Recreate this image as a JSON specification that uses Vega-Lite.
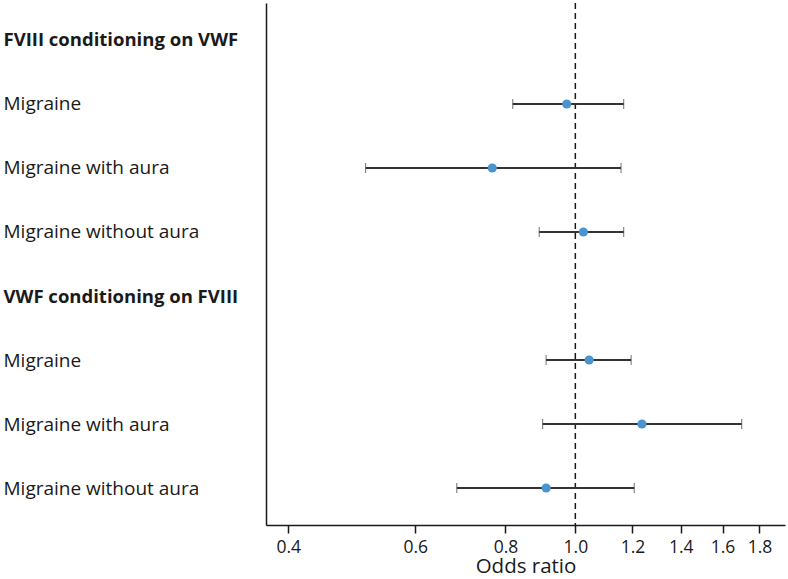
{
  "$schema": "https://vega.github.io/schema/vega-lite/v6.json",
  "width": 519,
  "height": 522,
  "autosize": "none",
  "padding": {"left": 266, "top": 3, "right": 3, "bottom": 54},
  "background": "white",
  "config": {
    "view": {"stroke": null},
    "font": "Open Sans"
  },
  "data": {
    "values": [
      {"key": "FVIII conditioning on VWF", "est": null, "lo": null, "hi": null},
      {"key": "Migraine|1", "est": 0.973, "lo": 0.819, "hi": 1.167},
      {"key": "Migraine with aura|1", "est": 0.767, "lo": 0.512, "hi": 1.157},
      {"key": "Migraine without aura|1", "est": 1.026, "lo": 0.891, "hi": 1.167},
      {"key": "VWF conditioning on FVIII", "est": null, "lo": null, "hi": null},
      {"key": "Migraine|2", "est": 1.045, "lo": 0.911, "hi": 1.195},
      {"key": "Migraine with aura|2", "est": 1.237, "lo": 0.901, "hi": 1.701},
      {"key": "Migraine without aura|2", "est": 0.911, "lo": 0.685, "hi": 1.207}
    ]
  },
  "encoding": {
    "y": {
      "field": "key",
      "type": "ordinal",
      "sort": null,
      "scale": {
        "type": "point",
        "padding": 0.578,
        "domain": [
          "FVIII conditioning on VWF",
          "Migraine|1",
          "Migraine with aura|1",
          "Migraine without aura|1",
          "VWF conditioning on FVIII",
          "Migraine|2",
          "Migraine with aura|2",
          "Migraine without aura|2"
        ]
      },
      "axis": {
        "title": null,
        "ticks": false,
        "tickSize": 0,
        "labelAlign": "left",
        "labelBaseline": "middle",
        "labelPadding": 263,
        "labelFont": "Open Sans",
        "labelFontSize": {"condition": {"test": "indexof(datum.value, 'conditioning') >= 0", "value": 18.5}, "value": 19},
        "labelColor": "#1a1a1a",
        "labelExpr": "split(datum.value, '|')[0]",
        "labelFontWeight": {"condition": {"test": "indexof(datum.value, 'conditioning') >= 0", "value": "bold"}, "value": "normal"},
        "domainColor": "#1a1a1a",
        "domainWidth": 1.5,
        "grid": false,
        "labelLimit": 300
      }
    }
  },
  "layer": [
    {
      "mark": {"type": "rule", "strokeDash": [6, 4], "color": "#1a1a1a", "strokeWidth": 1.5},
      "data": {"values": [{"ref": 1.0}]},
      "encoding": {
        "x": {
          "field": "ref",
          "type": "quantitative",
          "title": "Odds ratio",
          "scale": {"type": "log", "domain": [0.3725, 1.953], "nice": false, "zero": false},
          "axis": {
            "title": "Odds ratio",
            "titleFont": "Open Sans",
            "titleFontSize": 20.5,
            "titleFontWeight": "normal",
            "titleColor": "#1a1a1a",
            "titlePadding": 1,
            "values": [0.4, 0.6, 0.8, 1.0, 1.2, 1.4, 1.6, 1.8],
            "format": ".1f",
            "labelFont": "Open Sans",
            "labelFontSize": 17.5,
            "labelColor": "#1a1a1a",
            "labelPadding": 5,
            "tickSize": 8,
            "tickColor": "#1a1a1a",
            "tickWidth": 1.5,
            "domainColor": "#1a1a1a",
            "domainWidth": 1.5,
            "grid": false,
            "labelFlush": false,
            "labelOverlap": false
          }
        },
        "y": null
      }
    },
    {
      "mark": {"type": "errorbar", "ticks": {"size": 10, "color": "#333333", "strokeWidth": 1.8}, "rule": {"color": "#333333", "strokeWidth": 1.8}},
      "transform": [{"filter": "datum.est != null"}],
      "encoding": {
        "x": {"field": "lo", "type": "quantitative", "title": "Odds ratio"},
        "x2": {"field": "hi"}
      }
    },
    {
      "mark": {"type": "point", "filled": true, "size": 85, "color": "#4a95cf", "opacity": 1},
      "transform": [{"filter": "datum.est != null"}],
      "encoding": {
        "x": {"field": "est", "type": "quantitative", "title": "Odds ratio"}
      }
    }
  ],
  "resolve": {"scale": {"x": "shared"}}
}
